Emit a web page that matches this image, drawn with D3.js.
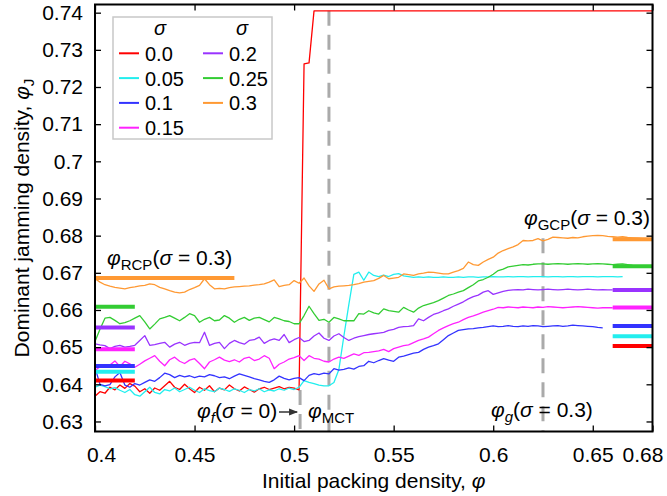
<!DOCTYPE html>
<html>
<head>
<meta charset="utf-8">
<script src="https://cdn.jsdelivr.net/npm/d3@7"></script>
<style>
body{margin:0;background:#fff}
svg{display:block;font-family:"Liberation Sans",Arial,sans-serif}
</style>
</head>
<body>
<svg id="chart" width="667" height="496"></svg>
<script>
// sampling grid of initial packing density (step 0.0025 from 0.4)
var phi = d3.range(0, 113).map(function(i){ return +(0.4 + i * 0.0025).toFixed(4); });

var sigmaLabels = ["0.0", "0.05", "0.1", "0.15", "0.2", "0.25", "0.3"];
var colors = ["#ff0000", "#22eeee", "#3333ff", "#ff22ff", "#9933ff", "#33cc33", "#ff9933"];

var red = [.6368,.6380,.6376,.6392,.6385,.6398,.6389,.6402,.6395,.6380,
  .6388,.6376,.6390,.6384,.6396,.6408,.6392,.6386,.6400,.6388,
  .6378,.6392,.6384,.6396,.6380,.6390,.6385,.6398,.6388,.6382,
  .6393,.6386,.6379,.6388,.6392,.6386,.6390,.6394,.6388,.6392,
  .6390,.6385,.7262,.7265,
  .7405,.7405,.7405,.7405,.7405,.7405,.7405,.7405,.7405,.7405,
  .7405,.7405,.7405,.7405,.7405,.7405,.7405,.7405,.7405,.7405,
  .7405,.7405,.7405,.7405,.7405,.7405,.7405,.7405,.7405,.7405,
  .7405,.7405,.7405,.7405,.7405,.7405,.7405,.7405,.7405,.7405,
  .7405,.7405,.7405,.7405,.7405,.7405,.7405,.7405,.7405,.7405,
  .7405,.7405,.7405,.7405,.7405,.7405,.7405,.7405,.7405,.7405,
  .7405,.7405,.7405,.7405,.7405,.7405,.7405,.7405,.7405];

var cyan = [.6392,.6398,.6394,.6388,.6391,.6384,.6378,.6386,.6372,.6368,
  .6380,.6392,.6378,.6374,.6386,.6382,.6390,.6380,.6386,.6392,
  .6384,.6378,.6388,.6383,.6380,.6390,.6386,.6381,.6388,.6384,
  .6378,.6386,.6382,.6388,.6380,.6385,.6382,.6388,.6384,.6390,
  .6386,.6392,.6410,.6405,.6402,.6398,.6396,.6396,.6405,.6440,
  .6530,.6615,.6696,.6702,.6680,.6702,.6693,.6690,.6694,.6690,
  .6696,.6698,.6692,.6690,.6688,.6689,.6688,.6689,.6688,.6688,
  .6689,.6688,.6688,.6689,.6688,.6689,.6689,.6688,.6689,.6689,
  .6690,.6689,.6689,.6690,.6689,.6690,.6690,.6689,.6690,.6690,
  .6690,.6689,.6690,.6690,.6689,.6690,.6690,.6689,.6690,.6690,
  .6690,.6689,.6690,.6690,.6690,.6689,.6690];

var blue = [.6445,.6400,.6396,.6399,.6420,.6432,.6398,.6392,.6402,.6398,
  .6405,.6412,.6408,.6418,.6430,.6426,.6418,.6424,.6420,.6423,
  .6418,.6422,.6420,.6426,.6423,.6418,.6420,.6415,.6422,.6428,
  .6424,.6420,.6415,.6412,.6408,.6405,.6412,.6422,.6416,.6412,
  .6416,.6418,.6410,.6424,.6429,.6426,.6430,.6428,.6442,.6438,
  .6440,.6444,.6441,.6448,.6450,.6462,.6458,.6464,.6469,.6465,
  .6462,.6473,.6476,.6480,.6484,.6486,.6494,.6500,.6504,.6509,
  .6520,.6531,.6538,.6545,.6547,.6549,.6550,.6552,.6553,.6555,
  .6557,.6555,.6556,.6558,.6556,.6555,.6557,.6556,.6558,.6557,
  .6555,.6556,.6557,.6558,.6556,.6557,.6559,.6558,.6557,.6556,
  .6555,.6553,.6552];

var magenta = [.6437,.6447,.6446,.6452,.6463,.6448,.6462,.6455,.6446,.6454,
  .6463,.6470,.6477,.6462,.6450,.6466,.6473,.6462,.6456,.6465,
  .6469,.6456,.6442,.6460,.6466,.6473,.6465,.6461,.6466,.6460,
  .6470,.6473,.6464,.6468,.6477,.6470,.6442,.6454,.6460,.6468,
  .6472,.6477,.6464,.6477,.6470,.6468,.6462,.6460,.6468,.6473,
  .6470,.6476,.6482,.6478,.6485,.6486,.6488,.6490,.6494,.6488,
  .6496,.6500,.6504,.6506,.6512,.6518,.6522,.6527,.6536,.6545,
  .6552,.6558,.6563,.6567,.6574,.6580,.6584,.6589,.6594,.6598,
  .6602,.6607,.6606,.6608,.6607,.6606,.6608,.6607,.6606,.6608,
  .6607,.6609,.6608,.6607,.6606,.6607,.6608,.6609,.6608,.6607,
  .6606,.6605,.6606,.6606,.6606];

var purple = [.6509,.6506,.6504,.6496,.6502,.6505,.6500,.6502,.6505,.6518,
  .6531,.6505,.6507,.6510,.6513,.6500,.6508,.6513,.6505,.6510,
  .6513,.6512,.6540,.6505,.6510,.6513,.6496,.6510,.6518,.6512,
  .6508,.6518,.6520,.6527,.6510,.6518,.6522,.6518,.6534,.6512,
  .6520,.6526,.6515,.6518,.6530,.6538,.6524,.6518,.6530,.6536,
  .6526,.6518,.6524,.6528,.6531,.6534,.6536,.6538,.6540,.6545,
  .6548,.6553,.6555,.6556,.6558,.6576,.6571,.6580,.6588,.6592,
  .6598,.6603,.6610,.6616,.6622,.6630,.6636,.6640,.6648,.6652,
  .6642,.6646,.6650,.6653,.6654,.6655,.6654,.6656,.6655,.6654,
  .6655,.6656,.6655,.6654,.6655,.6656,.6655,.6654,.6655,.6656,
  .6655,.6654,.6655,.6654,.6654];

var green = [.6515,.6548,.6578,.6580,.6572,.6563,.6566,.6571,.6578,.6585,
  .6568,.6549,.6562,.6576,.6580,.6585,.6578,.6571,.6580,.6590,
  .6585,.6567,.6575,.6580,.6571,.6573,.6585,.6578,.6567,.6575,
  .6580,.6572,.6578,.6580,.6574,.6568,.6580,.6576,.6571,.6569,
  .6563,.6563,.6585,.6610,.6590,.6572,.6575,.6567,.6580,.6576,
  .6571,.6571,.6571,.6590,.6589,.6598,.6592,.6589,.6603,.6598,
  .6596,.6594,.6607,.6600,.6594,.6605,.6612,.6616,.6620,.6625,
  .6632,.6639,.6643,.6648,.6652,.6660,.6668,.6678,.6682,.6688,
  .6696,.6706,.6710,.6716,.6718,.6720,.6722,.6721,.6723,.6724,
  .6724,.6723,.6724,.6725,.6724,.6723,.6724,.6725,.6724,.6723,
  .6724,.6725,.6724,.6723,.6722,.6723,.6724,.6722,.6720,.6719,.6718];

var orange = [.6684,.6675,.6668,.6664,.6661,.6659,.6657,.6660,.6662,.6665,
  .6666,.6670,.6668,.6661,.6657,.6652,.6648,.6646,.6648,.6655,
  .6660,.6666,.6684,.6668,.6657,.6658,.6657,.6660,.6662,.6663,
  .6664,.6665,.6667,.6668,.6670,.6675,.6681,.6663,.6666,.6668,
  .6679,.6672,.6686,.6665,.6650,.6670,.6680,.6657,.6662,.6664,
  .6665,.6666,.6668,.6671,.6675,.6677,.6679,.6685,.6693,.6684,
  .6686,.6688,.6697,.6695,.6693,.6697,.6699,.6702,.6701,.6699,
  .6697,.6697,.6702,.6706,.6712,.6729,.6722,.6720,.6729,.6736,
  .6742,.6753,.6760,.6765,.6770,.6776,.6787,.6786,.6787,.6792,
  .6786,.6790,.6796,.6795,.6794,.6793,.6795,.6794,.6797,.6799,
  .6800,.6801,.6800,.6798,.6797,.6796,.6797,.6795,.6794,.6793,.6792,.6790];

var series = [red, cyan, blue, magenta, purple, green, orange];

// short reference bars: random close packing (left) and glass close packing (right)
var refLeft = [.6410, .6434, .6449, .6494, .6553, .6609, .6686];
var refLeftEnd = [0.42, 0.42, 0.42, 0.42, 0.42, 0.42, 0.47];
var refRight = [.6503, .6529, .6557, .6607, .6654, .6718, .6790];

var xTicks = [0.4, 0.45, 0.5, 0.55, 0.6, 0.65, 0.68];
var yTicks = [0.63, 0.64, 0.65, 0.66, 0.67, 0.68, 0.69, 0.70, 0.71, 0.72, 0.73, 0.74];

var phiF = 0.503, phiMCT = 0.5175, phiG = 0.625;

var svg = d3.select("#chart");
var x = d3.scaleLinear().domain([0.4, 0.68]).range([95, 652.5]);
var y = d3.scaleLinear().domain([0.6273, 0.7422]).range([431.5, 4.5]);
var fmt = d3.format("~g");
var fs = 21;

svg.append("defs").append("clipPath").attr("id", "clip")
  .append("rect").attr("x", 95).attr("y", 4.5).attr("width", 557.5).attr("height", 427);

var marker = svg.select("defs").append("marker")
  .attr("id", "arr").attr("markerWidth", 9).attr("markerHeight", 8)
  .attr("refX", 8).attr("refY", 4).attr("orient", "auto").attr("markerUnits", "userSpaceOnUse");
marker.append("path").attr("d", "M0,0.5 L9,4 L0,7.5 Z").attr("fill", "#333");

// dashed guide lines
var guides = svg.append("g").attr("stroke", "#aaa").attr("stroke-width", 3)
  .attr("stroke-dasharray", "15,9");
guides.append("line").attr("x1", x(phiF)).attr("x2", x(phiF)).attr("y1", y(0.6385)).attr("y2", y(0.6273));
guides.append("line").attr("x1", x(phiMCT)).attr("x2", x(phiMCT)).attr("y1", y(0.7405)).attr("y2", y(0.6273));
guides.append("line").attr("x1", x(phiG)).attr("x2", x(phiG)).attr("y1", y(0.6793)).attr("y2", y(0.6273));

// data lines
var line = d3.line().x(function(d, i){ return x(phi[i]); }).y(function(d){ return y(d); });
var plot = svg.append("g").attr("clip-path", "url(#clip)");
series.forEach(function(s, k){
  plot.append("path").datum(s).attr("d", line)
    .attr("fill", "none").attr("stroke", colors[k]).attr("stroke-width", 1.3)
    .attr("stroke-linejoin", "round");
});

// thick reference bars
refLeft.forEach(function(v, k){
  plot.append("line").attr("x1", x(0.4)).attr("x2", x(refLeftEnd[k]))
    .attr("y1", y(v)).attr("y2", y(v)).attr("stroke", colors[k]).attr("stroke-width", 4);
});
refRight.forEach(function(v, k){
  plot.append("line").attr("x1", x(0.66)).attr("x2", x(0.68))
    .attr("y1", y(v)).attr("y2", y(v)).attr("stroke", colors[k]).attr("stroke-width", 4);
});

// axes
function styleAxis(g){
  g.select(".domain").remove();
  g.selectAll(".tick line").attr("stroke", "#000").attr("stroke-width", 1.3);
  g.selectAll(".tick text").attr("fill", "#000").attr("font-size", fs)
    .attr("font-family", "Liberation Sans, Arial, sans-serif");
}
var gx = svg.append("g").attr("transform", "translate(0,431.5)")
  .call(d3.axisBottom(x).tickValues(xTicks).tickSizeInner(-6).tickSizeOuter(0).tickPadding(15.5).tickFormat(fmt))
  .call(styleAxis);
gx.selectAll(".tick text").attr("dx", function(d){ return d === 0.4 ? 6 : d === 0.68 ? -10 : 0; });

svg.append("g").attr("transform", "translate(95,0)")
  .call(d3.axisLeft(y).tickValues(yTicks).tickSizeInner(-6).tickSizeOuter(0).tickPadding(12).tickFormat(fmt))
  .call(styleAxis);
svg.append("g").attr("transform", "translate(0,4.5)")
  .call(d3.axisTop(x).tickValues(xTicks).tickSizeInner(-6).tickSizeOuter(0).tickFormat(""))
  .call(styleAxis);
svg.append("g").attr("transform", "translate(652.5,0)")
  .call(d3.axisRight(y).tickValues(yTicks).tickSizeInner(-6).tickSizeOuter(0).tickFormat(""))
  .call(styleAxis);

svg.append("rect").attr("x", 95).attr("y", 4.5).attr("width", 557.5).attr("height", 427)
  .attr("fill", "none").attr("stroke", "#000").attr("stroke-width", 2);

// text with italic parts and subscripts
function mathText(px, py, parts, parent){
  var t = (parent || svg).append("text").attr("x", px).attr("y", py)
    .attr("font-size", fs).attr("fill", "#000");
  var down = false;
  parts.forEach(function(p){
    var s = t.append("tspan").text(p.t);
    if (p.i) s.attr("font-style", "italic");
    if (p.sub) { s.attr("font-size", 15).attr("dy", 5); down = true; }
    else if (down) { s.attr("dy", -5); down = false; }
  });
  return t;
}

mathText(373.75, 488, [{t: "Initial packing density, "}, {t: "φ", i: true}]).attr("text-anchor", "middle");
var yl = svg.append("g").attr("transform", "translate(29,218) rotate(-90)");
mathText(0, 0, [{t: "Dominant jamming density, "}, {t: "φ", i: true}, {t: "J", sub: true}], yl)
  .attr("text-anchor", "middle");

mathText(107, 265, [{t: "φ", i: true}, {t: "RCP", sub: true}, {t: "("}, {t: "σ", i: true}, {t: " = 0.3)"}]);
mathText(524, 225, [{t: "φ", i: true}, {t: "GCP", sub: true}, {t: "("}, {t: "σ", i: true}, {t: " = 0.3)"}]);
mathText(197, 418, [{t: "φ", i: true}, {t: "f", i: true, sub: true}, {t: "("}, {t: "σ", i: true}, {t: " = 0)"}]);
mathText(308, 418, [{t: "φ", i: true}, {t: "MCT", sub: true}]);
mathText(491, 417, [{t: "φ", i: true}, {t: "g", i: true, sub: true}, {t: "("}, {t: "σ", i: true}, {t: " = 0.3)"}]);

svg.append("line").attr("x1", 279).attr("x2", x(phiF) - 3).attr("y1", 412).attr("y2", 412)
  .attr("stroke", "#333").attr("stroke-width", 1.5).attr("marker-end", "url(#arr)");

// legend
var lg = svg.append("g");
lg.append("rect").attr("x", 113).attr("y", 17).attr("width", 159).attr("height", 122)
  .attr("fill", "#fff").attr("stroke", "#c8c8c8").attr("stroke-width", 1.5);
[160, 242].forEach(function(cx){
  lg.append("text").attr("x", cx).attr("y", 35).attr("text-anchor", "middle")
    .attr("font-size", 20).attr("font-style", "italic").text("σ");
});
sigmaLabels.forEach(function(lab, k){
  var col = k < 4 ? 0 : 1, row = k < 4 ? k : k - 4;
  var lx = col ? 203 : 119, ly = 53.3 + row * 24.8;
  lg.append("line").attr("x1", lx).attr("x2", lx + 20).attr("y1", ly).attr("y2", ly)
    .attr("stroke", colors[k]).attr("stroke-width", 2);
  lg.append("text").attr("x", lx + 26).attr("y", ly + 7.5).attr("font-size", 20).text(lab);
});
</script>
</body>
</html>
